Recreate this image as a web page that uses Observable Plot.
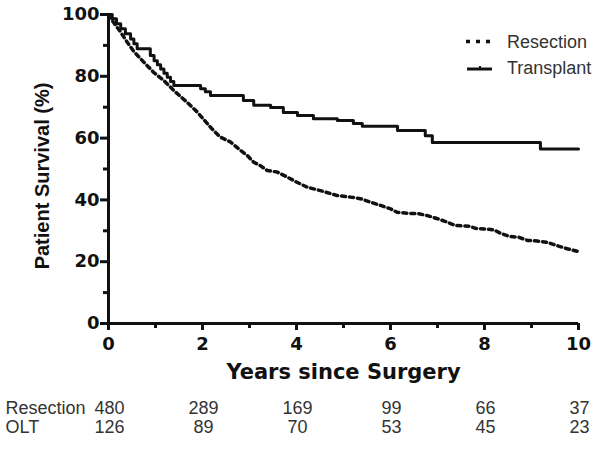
<!DOCTYPE html>
<html><head><meta charset="utf-8">
<script src="https://cdn.jsdelivr.net/npm/d3@7"></script>
<script src="https://cdn.jsdelivr.net/npm/@observablehq/plot@0.6"></script>
<style>
body{margin:0;background:#fff;}
#wrap{position:relative;width:600px;height:449px;overflow:hidden;}
#legend{position:absolute;left:0;top:0;pointer-events:none;}
</style></head><body><div id="wrap"></div>
<script>
// Kaplan-Meier curves (years, survival %)
const resectionTime = [0, 0.08, 0.25, 0.4, 0.54, 0.75, 0.96, 1.18, 1.39, 1.67, 1.89, 2.0, 2.2, 2.38, 2.6, 2.81, 2.95, 3.09, 3.23, 3.38, 3.59, 3.8, 4.01, 4.23, 4.51, 4.87, 5.15, 5.36, 5.57, 5.79, 6.0, 6.14, 6.35, 6.6, 6.79, 7.0, 7.21, 7.38, 7.67, 7.81, 8.02, 8.2, 8.34, 8.52, 8.73, 8.91, 9.12, 9.33, 9.54, 9.76, 9.97];
const resectionSurv = [100, 98, 94.5, 91, 88, 84.6, 81.3, 78.6, 75.4, 71.6, 68.4, 66.5, 63, 60.3, 58.7, 56, 54.4, 52.2, 51.1, 49.5, 49, 47.4, 45.7, 44.1, 43, 41.4, 40.9, 40.4, 39.3, 38.2, 37.1, 36.0, 35.7, 35.5, 34.9, 33.9, 32.8, 31.7, 31.5, 30.8, 30.6, 30.3, 29.2, 28.2, 27.9, 26.9, 26.7, 26.3, 25.2, 24.2, 23.4];
const transplantTime = [0, 0.08, 0.17, 0.26, 0.36, 0.47, 0.54, 0.61, 0.89, 0.97, 1.04, 1.11, 1.18, 1.25, 1.32, 1.39, 1.96, 2.06, 2.17, 2.87, 3.09, 3.45, 3.72, 4.02, 4.36, 4.87, 5.21, 5.40, 6.15, 6.74, 6.89, 9.19, 10];
const transplantSurv = [100, 98.6, 97, 95.4, 93.8, 92.1, 90.5, 88.9, 86.7, 85, 83.7, 82.4, 81, 79.7, 78.3, 77.0, 76.0, 75, 73.8, 72.2, 70.6, 69.9, 68.3, 67.3, 66.3, 65.7, 64.7, 63.8, 62.5, 60.8, 58.6, 56.5, 56.5];

// Number at risk table
const riskYears = [0, 2, 4, 6, 8, 10];
const riskResection = [480, 289, 169, 99, 66, 37];
const riskOLT = [126, 89, 70, 53, 45, 23];
const rowLabels = ["Resection", "OLT"];

const yMajor = [0, 20, 40, 60, 80, 100];
const yMinor = [10, 30, 50, 70, 90];
const xMajor = [0, 2, 4, 6, 8, 10];
const xMinor = [1, 3, 5, 7, 9];

const resection = resectionTime.map((t, i) => ({t, s: resectionSurv[i]}));
const transplant = transplantTime.map((t, i) => ({t, s: transplantSurv[i]}));
const riskRow0 = riskYears.map((y, i) => ({x: y, v: riskResection[i]}));
const riskRow1 = riskYears.map((y, i) => ({x: y, v: riskOLT[i]}));

const boldFont = "DejaVu Sans";
const plainFont = "'Liberation Sans', Arial, sans-serif";
const tableText = {fontSize: 18, fontFamily: plainFont, fontWeight: "normal", fill: "#333"};

const plot = Plot.plot({
  width: 600, height: 449,
  marginLeft: 108, marginRight: 22, marginTop: 14, marginBottom: 126,
  x: {domain: [0, 10]},
  y: {domain: [0, 100]},
  style: {fontFamily: boldFont, fontWeight: "bold", fontSize: "18px", color: "#111", background: "white", overflow: "visible"},
  marks: [
    Plot.axisY(yMajor, {tickSize: 8, tickPadding: 1, strokeWidth: 3, label: null, fontSize: 18}),
    Plot.axisY(yMinor, {tickSize: 5, strokeWidth: 3, label: null, tickFormat: () => ""}),
    Plot.axisX(xMajor, {tickSize: 7, tickPadding: 7, strokeWidth: 3, label: null, fontSize: 18}),
    Plot.axisX(xMinor, {tickSize: 5, strokeWidth: 3, label: null, tickFormat: () => ""}),
    Plot.ruleX([0], {strokeWidth: 3, stroke: "#111"}),
    Plot.ruleY([0], {strokeWidth: 3, stroke: "#111"}),
    Plot.line(resection, {x: "t", y: "s", stroke: "#111", strokeWidth: 3.5, strokeDasharray: "4,4"}),
    Plot.line(transplant, {x: "t", y: "s", curve: "step-after", stroke: "#111", strokeWidth: 3}),
    Plot.text(["Years since Surgery"], {frameAnchor: "bottom", dy: 55, fontSize: 21, fontFamily: boldFont, fontWeight: "bold", fill: "#111"}),
    Plot.text(["Patient Survival (%)"], {frameAnchor: "left", textAnchor: "middle", lineAnchor: "middle", dx: -66, dy: 7, rotate: -90, fontSize: 20, fontFamily: plainFont, fontWeight: "bold", fill: "#111"}),
    Plot.text(riskRow0, {x: "x", text: "v", frameAnchor: "bottom", textAnchor: "middle", dx: 1, dy: 90, ...tableText}),
    Plot.text(riskRow1, {x: "x", text: "v", frameAnchor: "bottom", textAnchor: "middle", dx: 1, dy: 109, ...tableText}),
    Plot.text([rowLabels[0]], {frameAnchor: "bottom-left", dx: -103, dy: 90, textAnchor: "start", ...tableText}),
    Plot.text([rowLabels[1]], {frameAnchor: "bottom-left", dx: -103, dy: 109, textAnchor: "start", ...tableText})
  ]
});
const wrap = document.getElementById("wrap");
wrap.appendChild(plot);

// Legend overlay
const ns = "http://www.w3.org/2000/svg";
const leg = document.createElementNS(ns, "svg");
leg.setAttribute("id", "legend");
leg.setAttribute("width", 600);
leg.setAttribute("height", 449);
leg.innerHTML = `
  <line x1="466" x2="492" y1="41.5" y2="41.5" stroke="#111" stroke-width="3.5" stroke-dasharray="4,6"/>
  <text x="507" y="41.5" dy="0.35em" font-family="Liberation Sans, Arial, sans-serif" font-size="18" fill="#333">Resection</text>
  <line x1="467" x2="492" y1="69" y2="69" stroke="#111" stroke-width="3"/>
  <line x1="480" x2="480" y1="66" y2="69" stroke="#111" stroke-width="2"/>
  <text x="507" y="68" dy="0.35em" font-family="Liberation Sans, Arial, sans-serif" font-size="18" fill="#333">Transplant</text>`;
wrap.appendChild(leg);
</script>
</body></html>
